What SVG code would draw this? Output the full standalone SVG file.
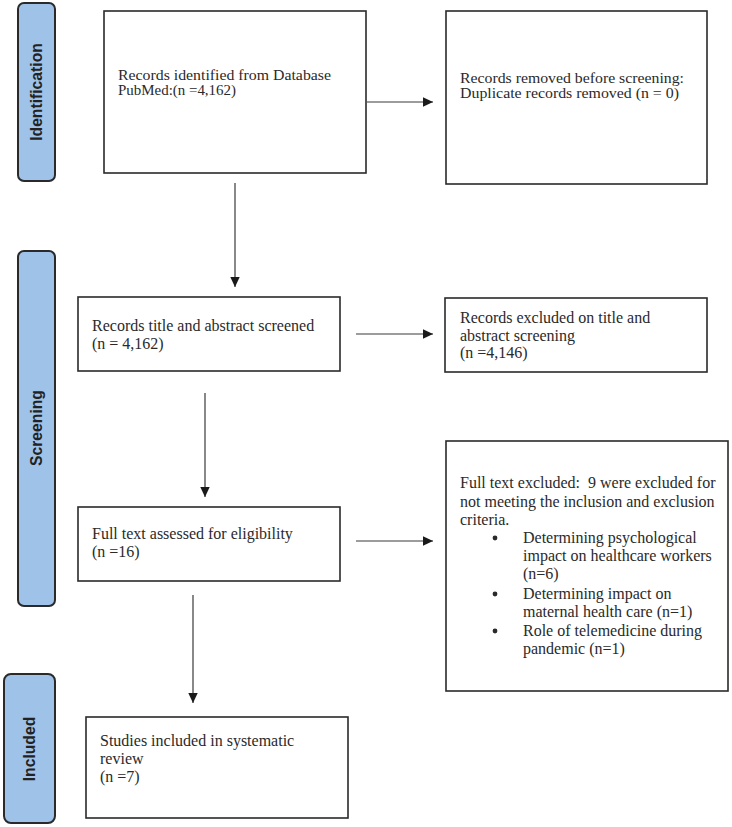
<svg xmlns="http://www.w3.org/2000/svg" width="732" height="827" viewBox="0 0 732 827">
<defs>
<marker id="ah" markerWidth="10" markerHeight="10" refX="10" refY="5" orient="auto" markerUnits="userSpaceOnUse">
<path d="M0,0.3 L10,5 L0,9.7 Z" fill="#1a1a1a"/>
</marker>
<style>
.box{fill:#fff;stroke:#2a2a2a;stroke-width:1.6}
.lab{fill:#9fc3e8;stroke:#2a2a2a;stroke-width:2}
.t{font-family:"Liberation Serif","Times New Roman",serif;font-size:16px;fill:#2a2a2a}
.ts{font-family:"Liberation Serif","Times New Roman",serif;font-size:15px;fill:#2a2a2a}
.lt{font-family:"Liberation Sans",Arial,sans-serif;font-size:15.7px;font-weight:bold;fill:#222;text-anchor:middle}
.c{stroke:#3a3a3a;stroke-width:1.2;fill:none;marker-end:url(#ah)}
</style>
</defs>
<rect width="732" height="827" fill="#fff"/>
<g id="label-identification">
<rect class="lab" x="18" y="3" width="37" height="178" rx="6"/>
<text class="lt" transform="translate(42,92) rotate(-90)">Identification</text>
</g>
<g id="label-screening">
<rect class="lab" x="18" y="251" width="37" height="355" rx="6"/>
<text class="lt" transform="translate(42,428) rotate(-90)">Screening</text>
</g>
<g id="label-included">
<rect class="lab" x="4" y="674" width="51" height="149" rx="7"/>
<text class="lt" transform="translate(35,749) rotate(-90)">Included</text>
</g>
<g id="n1">
<rect class="box" x="104" y="11" width="262" height="162"/>
<text class="ts" x="118" y="79.5" textLength="213" lengthAdjust="spacingAndGlyphs">Records identified from Database</text>
<text class="ts" x="118" y="94.5" textLength="118" lengthAdjust="spacingAndGlyphs">PubMed:(n =4,162)</text>
</g>
<g id="n2">
<rect class="box" x="446" y="11" width="261" height="173"/>
<text class="ts" x="460" y="82.5" textLength="224" lengthAdjust="spacingAndGlyphs">Records removed before screening:</text>
<text class="ts" x="460" y="97.5" textLength="219" lengthAdjust="spacingAndGlyphs">Duplicate records removed (n = 0)</text>
</g>
<g id="n3">
<rect class="box" x="78" y="297" width="262" height="74"/>
<text class="t" x="92" y="331">Records title and abstract screened</text>
<text class="t" x="92" y="349">(n = 4,162)</text>
</g>
<g id="n4">
<rect class="box" x="445" y="298" width="262" height="74"/>
<text class="t" x="460" y="323">Records excluded on title and</text>
<text class="t" x="460" y="341">abstract screening</text>
<text class="t" x="460" y="358">(n =4,146)</text>
</g>
<g id="n5">
<rect class="box" x="78" y="507" width="262" height="74"/>
<text class="t" x="92" y="539">Full text assessed for eligibility</text>
<text class="t" x="92" y="557">(n =16)</text>
</g>
<g id="n6">
<rect class="box" x="446" y="441" width="282" height="250"/>
<text class="t" x="460" y="488" xml:space="preserve">Full text excluded:  9 were excluded for</text>
<text class="t" x="460" y="507">not meeting the inclusion and exclusion</text>
<text class="t" x="460" y="525">criteria.</text>
<circle cx="495" cy="538" r="2.4" fill="#2a2a2a"/>
<text class="t" x="523" y="543">Determining psychological</text>
<text class="t" x="523" y="561">impact on healthcare workers</text>
<text class="t" x="523" y="579">(n=6)</text>
<circle cx="495" cy="594" r="2.4" fill="#2a2a2a"/>
<text class="t" x="523" y="599">Determining impact on</text>
<text class="t" x="523" y="617">maternal health care (n=1)</text>
<circle cx="495" cy="631" r="2.4" fill="#2a2a2a"/>
<text class="t" x="523" y="636">Role of telemedicine during</text>
<text class="t" x="523" y="654">pandemic (n=1)</text>
</g>
<g id="n7">
<rect class="box" x="86" y="717" width="262" height="101"/>
<text class="t" x="100" y="746">Studies included in systematic</text>
<text class="t" x="100" y="764">review</text>
<text class="t" x="100" y="782">(n =7)</text>
</g>
<g id="connectors">
<line class="c" x1="367" y1="102" x2="433" y2="102"/>
<line class="c" x1="235" y1="183" x2="235" y2="287"/>
<line class="c" x1="356" y1="334" x2="433" y2="334"/>
<line class="c" x1="205" y1="393" x2="205" y2="497"/>
<line class="c" x1="356" y1="541" x2="433" y2="541"/>
<line class="c" x1="193" y1="595" x2="193" y2="703"/>
</g>
</svg>
